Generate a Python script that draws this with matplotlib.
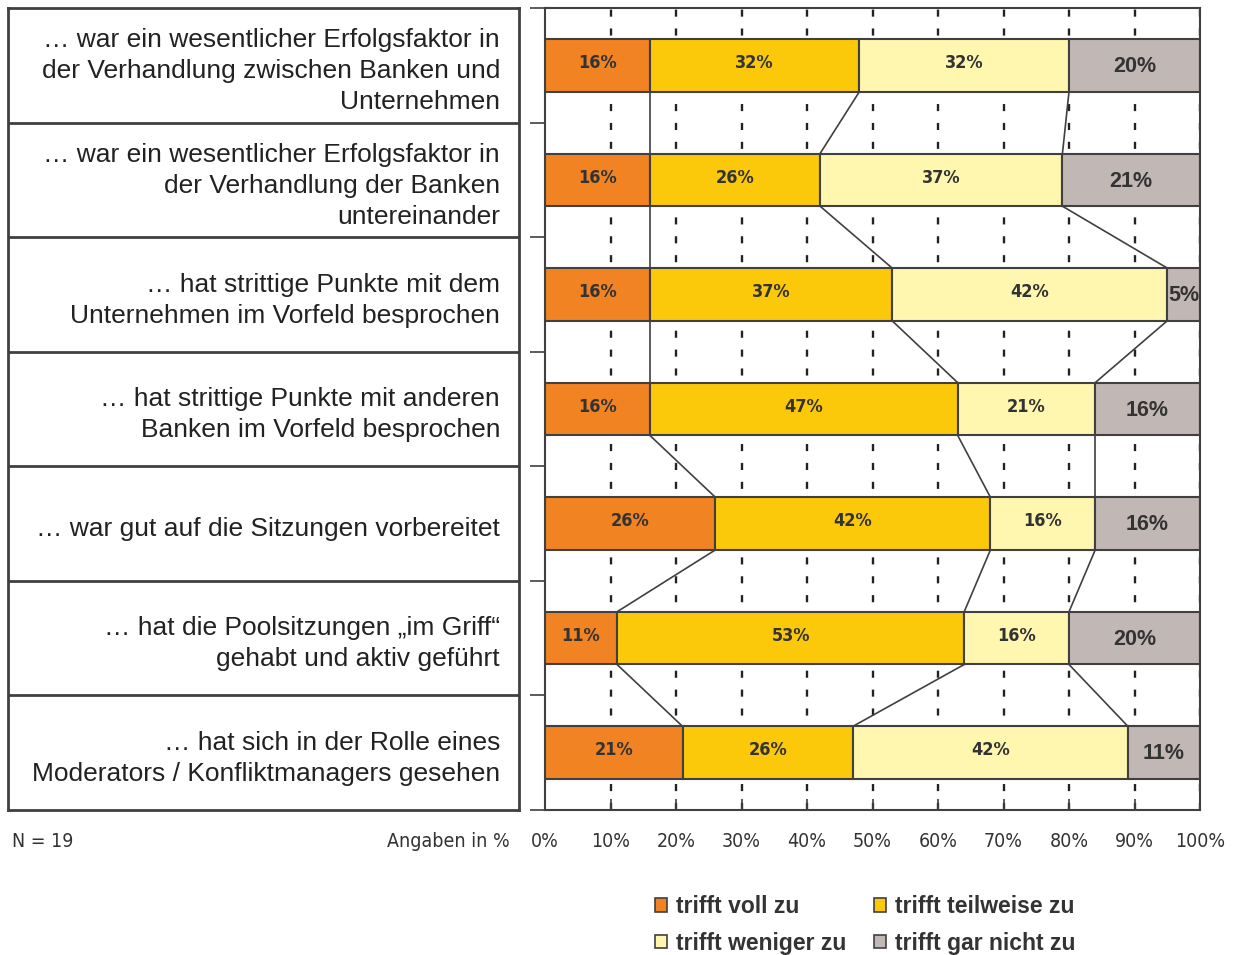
import numpy as np
import matplotlib.pyplot as plt
from matplotlib.patches import Patch

statements = [
    '… war ein wesentlicher Erfolgsfaktor in\nder Verhandlung zwischen Banken und\nUnternehmen',
    '… war ein wesentlicher Erfolgsfaktor in\nder Verhandlung der Banken\nuntereinander',
    '… hat strittige Punkte mit dem\nUnternehmen im Vorfeld besprochen',
    '… hat strittige Punkte mit anderen\nBanken im Vorfeld besprochen',
    '… war gut auf die Sitzungen vorbereitet',
    '… hat die Poolsitzungen „im Griff“\ngehabt und aktiv geführt',
    '… hat sich in der Rolle eines\nModerators / Konfliktmanagers gesehen',
]
series_names = ['trifft voll zu', 'trifft teilweise zu', 'trifft weniger zu', 'trifft gar nicht zu']
voll = [16, 16, 16, 16, 26, 11, 21]
teilweise = [32, 26, 37, 47, 42, 53, 26]
weniger = [32, 37, 42, 21, 16, 16, 42]
gar_nicht = [20, 21, 5, 16, 16, 20, 11]
x_ticks = [0, 10, 20, 30, 40, 50, 60, 70, 80, 90, 100]

colors = ['#F28322', '#FCC90A', '#FFF7B0', '#C1B7B5']
edge = '#404040'
txt = '#333333'
narrow = ['Liberation Sans Narrow', 'DejaVu Sans Condensed', 'DejaVu Sans']
sans = ['Liberation Sans', 'DejaVu Sans']

W, H = 1237, 955
fig = plt.figure(figsize=(W / 100, H / 100), dpi=100)

top = 1 - 8 / H
bottom = 1 - 810 / H
ax = fig.add_axes([545 / W, bottom, (1200 - 545) / W, top - bottom])

data = np.array([voll, teilweise, weniger, gar_nicht], dtype=float)
n = data.shape[1]
y = np.arange(n)
bh = 0.46

# grid lines behind the bars
for xv in x_ticks[1:]:
    ax.axvline(xv, color='#222222', lw=1.7, ls=(0, (3, 5)), zorder=0)

left = np.zeros(n)
for i, vals in enumerate(data):
    ax.barh(y, vals, left=left, height=bh, color=colors[i], edgecolor=edge,
            linewidth=1.5, zorder=2)
    for j, v in enumerate(vals):
        cx = left[j] + v / 2
        if i == 3:
            ax.text(cx, y[j] + 0.01, f'{v:.0f}%', ha='center', va='center',
                    fontsize=15.5, fontweight='bold', color=txt, zorder=4,
                    family=sans)
        else:
            ax.text(cx, y[j] - 0.02, f'{v:.0f}%', ha='center', va='center',
                    fontsize=13, fontweight='bold', color=txt, zorder=4,
                    family=narrow, fontstretch='condensed')
    left = left + vals

# series lines between neighbouring bars
cum = np.cumsum(data, axis=0)
for k in range(3):
    for j in range(n - 1):
        ax.plot([cum[k, j], cum[k, j + 1]], [y[j] + bh / 2, y[j + 1] - bh / 2],
                color=edge, lw=1.2, zorder=1)

ax.set_xlim(0, 100)
ax.set_ylim(n - 0.5, -0.5)
ax.set_xticks(x_ticks)
ax.set_xticklabels([])
ax.set_yticks(np.arange(-0.5, n, 1.0))
ax.set_yticklabels([])
ax.tick_params(axis='x', direction='in', length=8, width=1.2, color=edge)
ax.tick_params(axis='y', direction='out', length=11, width=1.2, color=edge)
for s in ax.spines.values():
    s.set_color(edge)
    s.set_linewidth(1.5)

ty = -31 / 802
for xv in x_ticks:
    ax.text(xv, ty, f'{xv}%', transform=ax.get_xaxis_transform(),
            ha='center', va='center', fontsize=14, color=txt,
            family=narrow, fontstretch='condensed')

# statement table on the left
lab = fig.add_axes([8 / W, bottom, (519 - 8) / W, top - bottom])
lab.set_xlim(0, 1)
lab.set_ylim(n - 0.5, -0.5)
lab.set_xticks([])
lab.set_yticks([])
for s in lab.spines.values():
    s.set_color(edge)
    s.set_linewidth(2)
for b in np.arange(0.5, n - 1, 1.0):
    lab.axhline(b, color=edge, lw=2)
for j, s in enumerate(statements):
    lab.text(0.963, j + 0.05, s, ha='right', va='center', fontsize=19,
             color='#222222', linespacing=1.37, family=sans)

fig.text(12 / W, 1 - 841 / H, 'N = 19', ha='left', va='center', fontsize=14,
         color=txt, family=narrow, fontstretch='condensed')
fig.text(510 / W, 1 - 841 / H, 'Angaben in %', ha='right', va='center',
         fontsize=14, color=txt, family=narrow, fontstretch='condensed')

# legend, filled column by column
order = [0, 2, 1, 3]
handles = [Patch(facecolor=colors[k], edgecolor=edge, lw=1.2) for k in order]
labels = [series_names[k] for k in order]
leg = fig.legend(handles, labels, loc='upper left', bbox_to_anchor=(655 / W, 1 - 895 / H),
                 ncol=2, frameon=False, handlelength=0.52, handleheight=0.52,
                 handletextpad=0.4, columnspacing=1.2, labelspacing=0.6,
                 borderpad=0, borderaxespad=0,
                 prop={'family': sans, 'weight': 'bold', 'size': 16.5})
for t in leg.get_texts():
    t.set_color(txt)

fig.savefig('out.png', dpi=100)
